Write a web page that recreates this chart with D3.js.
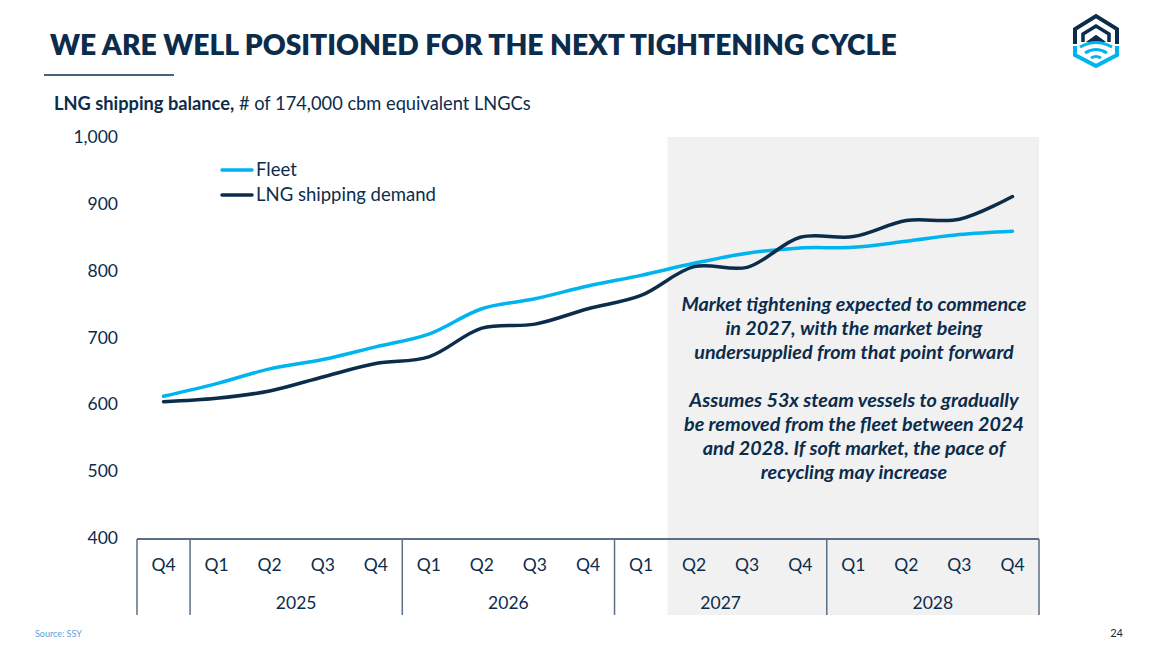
<!DOCTYPE html>
<html>
<head>
<meta charset="utf-8">
<script src="https://cdn.jsdelivr.net/npm/d3@7"></script>
<style>
  html, body { margin: 0; padding: 0; background: #fff; }
  svg { display: block; font-family: Lato, "Open Sans", sans-serif; }
</style>
</head>
<body>
<svg id="chart" width="1172" height="657"></svg>
<script>
// ---- data ----
const quarters = ["Q4","Q1","Q2","Q3","Q4","Q1","Q2","Q3","Q4","Q1","Q2","Q3","Q4","Q1","Q2","Q3","Q4"];
const years = [
  {label: "", from: 0, to: 0},
  {label: "2025", from: 1, to: 4},
  {label: "2026", from: 5, to: 8},
  {label: "2027", from: 9, to: 12},
  {label: "2028", from: 13, to: 16}
];
const fleet  = [612, 631, 653, 667, 686, 705, 743, 758, 777, 793, 811, 826, 834, 835, 844, 854, 859];
const demand = [604, 609, 620, 641, 661, 671, 714, 720, 743, 763, 806, 805, 850, 851, 875, 877, 911];
const yTicks = [400, 500, 600, 700, 800, 900, 1000];
const shadeFrom = 10; // Q2 2027 onwards shaded
const seriesNames = ["Fleet", "LNG shipping demand"];

const NAVY = "#0c2c4c";
const CYAN = "#00b4f0";
const AXIS = "#5b6f86";

const svg = d3.select("#chart");

// fit text width helper
function fit(sel, target) {
  const n = sel.node();
  const w = n.getComputedTextLength();
  const fs = parseFloat(sel.attr("font-size"));
  sel.attr("font-size", fs * target / w);
}

// ---- scales ----
const x = d3.scaleBand().domain(d3.range(quarters.length)).range([137, 1039]).padding(0);
const y = d3.scaleLinear().domain([400, 1000]).range([538, 137]);
const cx = i => x(i) + x.bandwidth() / 2;

// ---- shaded region ----
svg.append("rect")
  .attr("x", x(shadeFrom)).attr("y", y(1000))
  .attr("width", x.range()[1] - x(shadeFrom))
  .attr("height", 615 - y(1000))
  .attr("fill", "#f1f1f1");

// ---- title ----
const title = svg.append("text")
  .attr("x", 50).attr("y", 55)
  .attr("font-size", 28).attr("font-weight", 800)
  .attr("fill", NAVY)
  .text("WE ARE WELL POSITIONED FOR THE NEXT TIGHTENING CYCLE");
fit(title, 847);

svg.append("line").attr("x1", 44).attr("x2", 174).attr("y1", 75).attr("y2", 75)
  .attr("stroke", NAVY).attr("stroke-width", 1.5);

const sub = svg.append("text").attr("x", 54).attr("y", 110).attr("font-size", 16).attr("fill", NAVY);
sub.append("tspan").attr("font-weight", 700).text("LNG shipping balance,");
sub.append("tspan").text(" # of 174,000 cbm equivalent LNGCs");
fit(sub, 477);

// ---- y axis ----
const yAxis = d3.axisLeft(y).tickValues(yTicks).tickFormat(d3.format(",")).tickSize(0).tickPadding(0);
const gy = svg.append("g").attr("transform", "translate(118,0)").call(yAxis);
gy.select(".domain").remove();
gy.selectAll("text").attr("font-size", 17.5).attr("fill", NAVY).attr("font-family", "Lato, sans-serif");

// ---- category table ----
const tableTop = 539, tableBottom = 615;
svg.append("line").attr("x1", x.range()[0]).attr("x2", x.range()[1])
  .attr("y1", tableTop).attr("y2", tableTop).attr("stroke", AXIS).attr("stroke-width", 2);
const seps = years.map(g => x(g.from)).concat([x.range()[1]]);
svg.selectAll("line.sep").data(seps).enter().append("line").attr("class", "sep")
  .attr("x1", d => d).attr("x2", d => d).attr("y1", tableTop).attr("y2", tableBottom)
  .attr("stroke", AXIS).attr("stroke-width", 1.5);

const xAxis = d3.axisBottom(x).tickFormat(i => quarters[i]).tickSize(0).tickPadding(0);
const gx = svg.append("g").attr("transform", `translate(0,${tableTop})`).call(xAxis);
gx.select(".domain").remove();
gx.selectAll("text").attr("y", 32).attr("dy", null)
  .attr("font-size", 17.5).attr("fill", NAVY).attr("font-family", "Lato, sans-serif");

svg.selectAll("text.year").data(years.filter(g => g.label)).enter().append("text")
  .attr("class", "year")
  .attr("x", g => (x(g.from) + x(g.to) + x.bandwidth()) / 2)
  .attr("y", 609).attr("text-anchor", "middle")
  .attr("font-size", 17.5).attr("fill", NAVY)
  .text(g => g.label);

// ---- lines ----
const line = d3.line().x((d, i) => cx(i)).y(d => y(d)).curve(d3.curveCatmullRom.alpha(0.5));
svg.append("path").datum(fleet).attr("d", line)
  .attr("fill", "none").attr("stroke", CYAN).attr("stroke-width", 3.5).attr("stroke-linecap", "round");
svg.append("path").datum(demand).attr("d", line)
  .attr("fill", "none").attr("stroke", NAVY).attr("stroke-width", 3.5).attr("stroke-linecap", "round");

// ---- legend ----
const legend = svg.append("g");
[[CYAN, seriesNames[0], 170], [NAVY, seriesNames[1], 195]].forEach(([c, t, yy]) => {
  legend.append("line").attr("x1", 222).attr("x2", 252).attr("y1", yy).attr("y2", yy)
    .attr("stroke", c).attr("stroke-width", 3.5).attr("stroke-linecap", "round");
  legend.append("text").attr("x", 256).attr("y", yy + 6).attr("font-size", 18).attr("fill", NAVY).text(t);
});
const legTexts = legend.selectAll("text");
fit(d3.select(legTexts.nodes()[1]), 180);
legTexts.attr("font-size", d3.select(legTexts.nodes()[1]).attr("font-size"));

// ---- annotation ----
const notes = [
  ["Market tightening expected to commence", 311],
  ["in 2027, with the market being", 335],
  ["undersupplied from that point forward", 359],
  ["Assumes 53x steam vessels to gradually", 407],
  ["be removed from the fleet between 2024", 431],
  ["and 2028. If soft market, the pace of", 455],
  ["recycling may increase", 479]
];
const ann = svg.append("g");
notes.forEach(([t, yy]) => {
  ann.append("text").attr("x", 854).attr("y", yy).attr("text-anchor", "middle")
    .attr("font-size", 17).attr("font-weight", 700).attr("font-style", "italic")
    .attr("fill", NAVY).text(t);
});
fit(ann.select("text"), 345);
const annFs = ann.select("text").attr("font-size");
ann.selectAll("text").attr("font-size", annFs);

// ---- footer ----
svg.append("text").attr("x", 35).attr("y", 637).attr("font-size", 9).attr("fill", "#5aa0d8").text("Source: SSY");
svg.append("text").attr("x", 1123).attr("y", 637).attr("text-anchor", "end").attr("font-size", 11).attr("fill", NAVY).text("24");

// ---- logo ----
const logo = svg.append("g").attr("fill", "none").attr("stroke-linejoin", "miter");
logo.append("path").attr("d", "M1075,44 L1075,29 L1096,16 L1117,29 L1117,44").attr("stroke", NAVY).attr("stroke-width", 4);
logo.append("path").attr("d", "M1083,42 L1083,34 L1096,26 L1109,34 L1109,42").attr("stroke", NAVY).attr("stroke-width", 3.5);
logo.append("path").attr("d", "M1089,41 L1096,36 L1103,41 Z").attr("fill", NAVY).attr("stroke", NAVY).attr("stroke-width", 2);
logo.append("path").attr("d", "M1075,46 L1075,55 L1096,66 L1117,55 L1117,46").attr("stroke", CYAN).attr("stroke-width", 4);
logo.append("path").attr("d", "M1080,47 Q1096,38 1112,47").attr("stroke", CYAN).attr("stroke-width", 3);
logo.append("path").attr("d", "M1085,53 Q1096,46 1107,53").attr("stroke", CYAN).attr("stroke-width", 3);
logo.append("path").attr("d", "M1091,58 Q1096,55 1101,58").attr("stroke", CYAN).attr("stroke-width", 3);
</script>
</body>
</html>
